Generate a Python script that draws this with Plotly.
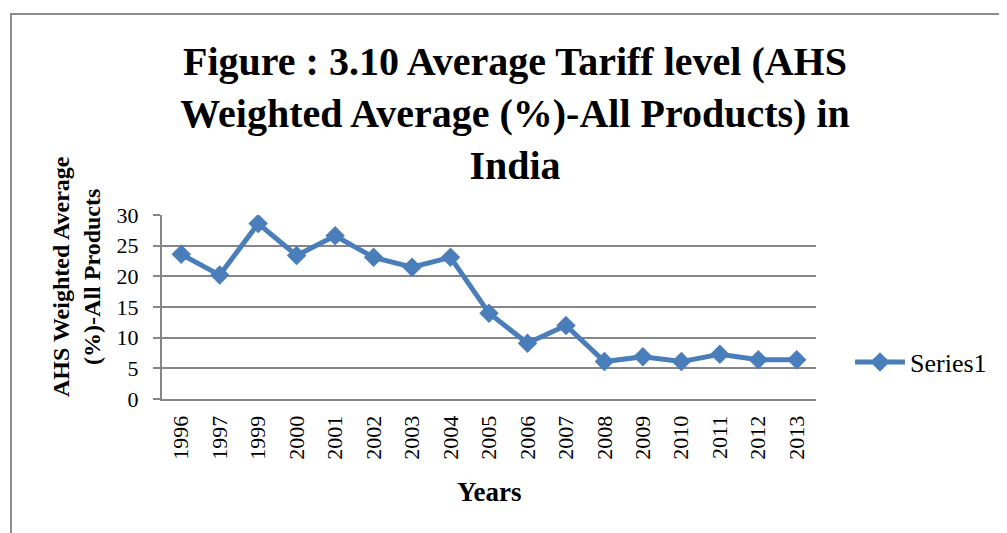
import plotly.graph_objects as go

years = ["1996", "1997", "1999", "2000", "2001", "2002", "2003", "2004", "2005",
         "2006", "2007", "2008", "2009", "2010", "2011", "2012", "2013"]
values = [23.6, 20.2, 28.6, 23.4, 26.6, 23.1, 21.5, 23.1, 14.0,
          9.1, 12.0, 6.1, 6.9, 6.1, 7.3, 6.4, 6.4]
y_ticks = [0, 5, 10, 15, 20, 25, 30]

# page body has an 8px margin; work in reference pixel coordinates shifted by it
OFF = 8
W, H = 1007 - OFF, 533 - OFF
L, T = 162 - OFF, 215 - OFF
R = W - (816 - OFF)
B = H - (399 - OFF)

def px(x):
    return (x - OFF - L) / (W - L - R)

def py(y):
    return (H - B - (y - OFF)) / (H - T - B)

SERIF = "Liberation Serif, Times New Roman, serif"
GRID = "#868686"
BLUE = "#4a7ebb"

fig = go.Figure()
fig.add_trace(go.Scatter(
    x=years, y=values, name="Series1", mode="lines+markers",
    line=dict(color=BLUE, width=5),
    marker=dict(symbol="diamond", size=15, color=BLUE),
))

fig.update_layout(
    width=W, height=H,
    margin=dict(l=L, r=R, t=T, b=B, autoexpand=False),
    paper_bgcolor="white", plot_bgcolor="white",
    font=dict(family=SERIF, color="black"),
    title=dict(
        text="<b>Figure : 3.10 Average Tariff level (AHS<br>Weighted Average (%)-All Products) in<br>India</b>",
        x=(515 - OFF) / W, xanchor="center", xref="container",
        y=1 - 67 / H, yanchor="top", yref="container",
        font=dict(family=SERIF, size=40, color="black"),
    ),
    showlegend=True,
    legend=dict(x=px(850), xanchor="left", y=py(362), yanchor="middle",
                itemwidth=50,
                font=dict(family=SERIF, size=26, color="black"),
                bgcolor="rgba(0,0,0,0)"),
    xaxis=dict(
        type="category", range=[-0.5, len(years) - 0.5],
        showgrid=False, showline=True, linecolor=GRID, linewidth=2,
        ticks="", tickangle=-90, ticklabelstandoff=6,
        tickfont=dict(family=SERIF, size=22, color="black"),
    ),
    yaxis=dict(
        range=[0, 30], tickvals=y_ticks, showgrid=True, gridcolor=GRID, gridwidth=2,
        showline=True, linecolor=GRID, linewidth=2, zeroline=False,
        ticks="outside", ticklen=7, tickcolor=GRID, tickwidth=2, ticklabelstandoff=10,
        tickfont=dict(family=SERIF, size=22, color="black"),
    ),
    annotations=[
        dict(text="<b>AHS Weighted Average<br>(%)-All Products</b>", textangle=-90,
             x=px(76), y=py(277), xref="paper", yref="paper", showarrow=False,
             xanchor="center", yanchor="middle",
             font=dict(family=SERIF, size=24, color="black")),
        dict(text="<b>Years</b>", x=px(489), y=py(492), xref="paper", yref="paper",
             showarrow=False, xanchor="center", yanchor="middle",
             font=dict(family=SERIF, size=27, color="black")),
    ],
    shapes=[
        dict(type="rect", xref="paper", yref="paper",
             x0=px(11), x1=px(1030), y0=py(560), y1=py(14),
             line=dict(color="#8c8c8c", width=2), fillcolor="rgba(0,0,0,0)", layer="below"),
    ],
)

fig.write_html("out.html")
